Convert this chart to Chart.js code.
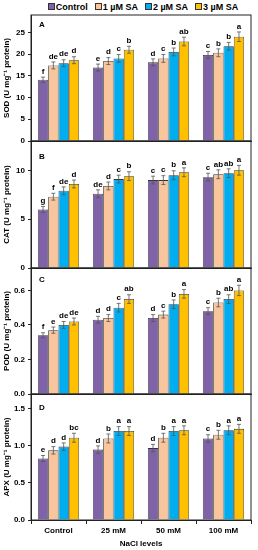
<!DOCTYPE html>
<html>
<head>
<meta charset="utf-8">
<script src="https://cdn.jsdelivr.net/npm/chart.js@4"></script>
<style>
  body { margin: 0; background: #fff; }
  #wrap { position: relative; width: 258px; height: 550px; overflow: hidden; }
  #wrap canvas { position: absolute; left: 0; }
  #legend {
    position: absolute; top: 1px; left: 33px; width: 220px; height: 11px;
    display: flex; justify-content: center; align-items: center; gap: 7px;
    font: bold 9px "Liberation Sans", Arial, sans-serif; color: #000;
  }
  #legend span.box {
    display: inline-block; width: 5px; height: 5px; border: 1px solid #333;
    margin-right: 1px; vertical-align: middle; position: relative; top: -1px;
  }
</style>
</head>
<body>
<div id="wrap">
  <div id="legend"></div>
  <canvas id="cA"></canvas>
  <canvas id="cB"></canvas>
  <canvas id="cC"></canvas>
  <canvas id="cD"></canvas>
</div>
<script>
const categories = ["Control", "25 mM", "50 mM", "100 mM"];
const seriesNames = ["Control", "1 µM SA", "2 µM SA", "3 µM SA"];
const seriesColors = ["#7F62A8", "#F9C59C", "#00AEEF", "#FFC000"];

// values per series (Control, 1, 2, 3 µM SA) across NaCl levels
const sodValues = [
  [14.1, 16.9, 18.1, 19.8],
  [17.4, 18.4, 19.0, 20.3],
  [17.9, 19.0, 20.5, 21.8],
  [18.6, 21.0, 22.9, 24.0],
];
const sodErrors = [
  [0.6, 0.8, 0.8, 0.8],
  [0.8, 0.8, 0.9, 0.9],
  [0.8, 0.9, 0.9, 0.9],
  [0.8, 0.8, 1.0, 1.1],
];
const sodLetters = [
  ["f", "e", "d", "c"],
  ["de", "d", "c", "b"],
  ["de", "c", "b", "b"],
  ["d", "b", "ab", "a"],
];

const catValues = [
  [6.0, 7.6, 9.0, 9.3],
  [7.3, 8.4, 9.0, 9.6],
  [7.9, 9.1, 9.5, 9.7],
  [8.6, 9.4, 9.8, 10.0],
];
const catErrors = [
  [0.3, 0.4, 0.4, 0.4],
  [0.35, 0.4, 0.45, 0.45],
  [0.4, 0.4, 0.45, 0.45],
  [0.4, 0.45, 0.45, 0.5],
];
const catLetters = [
  ["g", "de", "c", "c"],
  ["f", "d", "c", "ab"],
  ["de", "c", "b", "ab"],
  ["d", "b", "a", "a"],
];

const podValues = [
  [0.34, 0.43, 0.44, 0.48],
  [0.37, 0.44, 0.46, 0.53],
  [0.40, 0.50, 0.52, 0.55],
  [0.42, 0.55, 0.58, 0.60],
];
const podErrors = [
  [0.015, 0.02, 0.02, 0.02],
  [0.018, 0.02, 0.02, 0.025],
  [0.02, 0.025, 0.025, 0.025],
  [0.02, 0.025, 0.025, 0.03],
];
const podLetters = [
  ["f", "d", "d", "c"],
  ["e", "d", "c", "b"],
  ["de", "c", "b", "ab"],
  ["de", "ab", "a", "a"],
];

const apxValues = [
  [0.83, 0.95, 0.97, 1.10],
  [0.94, 1.10, 1.11, 1.15],
  [0.99, 1.20, 1.20, 1.21],
  [1.11, 1.20, 1.21, 1.23],
];
const apxErrors = [
  [0.04, 0.05, 0.05, 0.05],
  [0.05, 0.06, 0.06, 0.06],
  [0.05, 0.06, 0.06, 0.06],
  [0.06, 0.06, 0.06, 0.06],
];
const apxLetters = [
  ["e", "d", "d", "c"],
  ["d", "b", "b", "b"],
  ["d", "a", "a", "a"],
  ["bc", "a", "a", "a"],
];

const FONT = "'Liberation Sans', Arial, sans-serif";

// html legend
const legendDom = document.getElementById("legend");
seriesNames.forEach((name, i) => {
  const item = document.createElement("span");
  item.innerHTML = '<span class="box" style="background:' + seriesColors[i] + '"></span>' + name;
  legendDom.appendChild(item);
});

// error bars, letters, panel label and frame
const extrasPlugin = {
  id: "extras",
  afterDatasetsDraw(chart, args, opts) {
    const { ctx, chartArea } = chart;
    const y = chart.scales.y;
    ctx.save();
    chart.data.datasets.forEach((ds, i) => {
      const meta = chart.getDatasetMeta(i);
      meta.data.forEach((bar, j) => {
        const v = ds.data[j];
        const e = ds.errors[j];
        const top = y.getPixelForValue(v + e);
        const bot = y.getPixelForValue(v - e);
        ctx.strokeStyle = "#555";
        ctx.lineWidth = 0.8;
        ctx.beginPath();
        ctx.moveTo(bar.x, top);
        ctx.lineTo(bar.x, bot);
        ctx.moveTo(bar.x - 2, top);
        ctx.lineTo(bar.x + 2, top);
        ctx.moveTo(bar.x - 2, bot);
        ctx.lineTo(bar.x + 2, bot);
        ctx.stroke();
        ctx.fillStyle = "#000";
        ctx.font = "bold 8px " + FONT;
        ctx.textAlign = "center";
        ctx.textBaseline = "bottom";
        ctx.fillText(ds.letters[j], bar.x, top - 1.5);
      });
    });
    ctx.fillStyle = "#000";
    ctx.font = "bold 8px " + FONT;
    ctx.textAlign = "center";
    ctx.textBaseline = "middle";
    ctx.fillText(opts.label, chartArea.left + 11, chartArea.top + opts.labelOffset);
    ctx.strokeStyle = "#222";
    ctx.lineWidth = 1;
    ctx.strokeRect(chartArea.left, chartArea.top, chartArea.right - chartArea.left, chartArea.bottom - chartArea.top);
    ctx.restore();
  },
};

function makePanel(id, areaTop, areaBottom, isLast, label, labelOffset, yTitle, yMax, yStep, decimals, values, errors, letters) {
  const canvas = document.getElementById(id);
  const padTop = 10;
  const canvasTop = areaTop - padTop;
  const height = isLast ? 550 - canvasTop : areaBottom - areaTop + 20;
  canvas.width = 258;
  canvas.height = height;
  canvas.style.top = canvasTop + "px";

  const datasets = seriesNames.map((name, i) => ({
    label: name,
    data: values[i],
    errors: errors[i],
    letters: letters[i],
    backgroundColor: seriesColors[i],
    borderColor: "#333",
    borderWidth: 0.8,
    categoryPercentage: 0.75,
    barPercentage: 1.0,
  }));

  return new Chart(canvas, {
    type: "bar",
    data: { labels: categories, datasets },
    plugins: [extrasPlugin],
    options: {
      responsive: false,
      animation: false,
      layout: { padding: { top: padTop, bottom: isLast ? 0 : 10, left: 0, right: 7 } },
      plugins: {
        legend: { display: false },
        tooltip: { enabled: false },
        extras: { label, labelOffset },
      },
      scales: {
        x: {
          afterFit(scale) { scale.height = isLast ? 30 : 0; },
          grid: { display: isLast, drawOnChartArea: false, drawTicks: isLast, tickLength: 4, color: "#222" },
          border: { display: true, color: "#222" },
          ticks: {
            display: isLast,
            color: "#000",
            padding: 2,
            font: { family: FONT, size: 8, weight: "bold" },
          },
          title: {
            display: isLast,
            text: "NaCl levels",
            color: "#000",
            padding: { top: 4, bottom: 1 },
            font: { family: FONT, size: 8, weight: "bold" },
          },
        },
        y: {
          min: 0,
          max: yMax,
          afterFit(scale) { scale.width = 31; },
          grid: { drawOnChartArea: false, drawTicks: true, tickLength: 3, color: "#222" },
          border: { display: true, color: "#222" },
          ticks: {
            stepSize: yStep,
            includeBounds: false,
            padding: 3,
            color: "#000",
            font: { family: FONT, size: 8, weight: "bold" },
            callback: (v) => Number(v).toFixed(decimals),
          },
          title: {
            display: true,
            text: yTitle,
            color: "#000",
            padding: { top: 2, bottom: 0 },
            font: { family: FONT, size: 8, weight: "bold" },
          },
        },
      },
    },
  });
}

makePanel("cA", 15, 141, false, "A", 10, "SOD (U mg⁻¹ protein)", 29, 5, 0, sodValues, sodErrors, sodLetters);
makePanel("cB", 141, 268, false, "B", 16, "CAT (U mg⁻¹ protein)", 13, 5, 0, catValues, catErrors, catLetters);
makePanel("cC", 268, 394, false, "C", 12, "POD (U mg⁻¹ protein)", 0.73, 0.2, 1, podValues, podErrors, podLetters);
makePanel("cD", 394, 520, true, "D", 14, "APX (U mg⁻¹ protein)", 1.7, 0.5, 1, apxValues, apxErrors, apxLetters);
</script>
</body>
</html>
